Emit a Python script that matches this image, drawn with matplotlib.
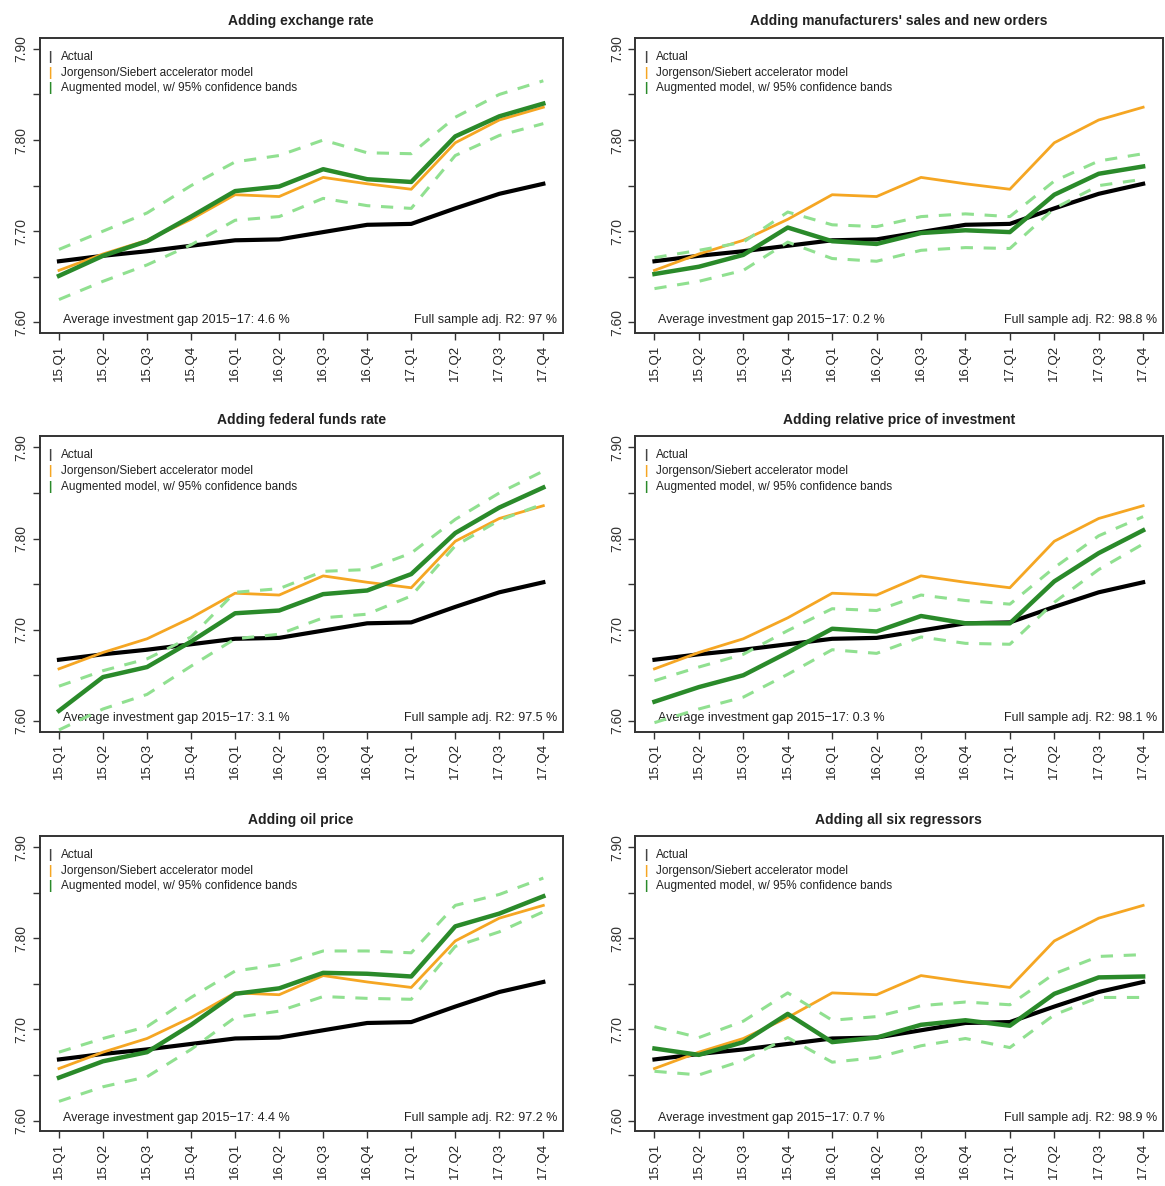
"""
Investment gap: actual vs. accelerator model vs. augmented models, 2015-17
"""
import matplotlib as mpl
import matplotlib.pyplot as plt
import numpy as np

mpl.rcParams["font.family"] = ["Liberation Sans", "DejaVu Sans"]
mpl.rcParams["axes.unicode_minus"] = False

# --------------------------------------------------------------------
# DATA (log real investment, read off the figure)
# --------------------------------------------------------------------
QUARTERS = ["15.Q1", "15.Q2", "15.Q3", "15.Q4", "16.Q1", "16.Q2",
            "16.Q3", "16.Q4", "17.Q1", "17.Q2", "17.Q3", "17.Q4"]

ACTUAL = [7.667, 7.673, 7.678, 7.684, 7.690, 7.691,
          7.699, 7.707, 7.708, 7.725, 7.741, 7.752]
JORGENSON = [7.657, 7.675, 7.690, 7.713, 7.740, 7.738,
             7.759, 7.752, 7.746, 7.797, 7.822, 7.836]

TITLES = [
    "Adding exchange rate",
    "Adding manufacturers' sales and new orders",
    "Adding federal funds rate",
    "Adding relative price of investment",
    "Adding oil price",
    "Adding all six regressors",
]
GAPS = ["4.6", "0.2", "3.1", "0.3", "4.4", "0.7"]
R2 = ["97", "98.8", "97.5", "98.1", "97.2", "98.9"]

# augmented model point forecast, per panel
AUG_EXCH = [7.651, 7.673, 7.689, 7.716, 7.744, 7.749,
            7.768, 7.757, 7.754, 7.804, 7.826, 7.840]
AUG_MANUF = [7.653, 7.661, 7.674, 7.704, 7.689, 7.686,
             7.698, 7.701, 7.699, 7.740, 7.763, 7.771]
AUG_FFR = [7.611, 7.648, 7.659, 7.687, 7.718, 7.721,
           7.739, 7.743, 7.761, 7.806, 7.834, 7.856]
AUG_RELP = [7.621, 7.637, 7.650, 7.675, 7.701, 7.698,
            7.715, 7.707, 7.707, 7.753, 7.784, 7.809]
AUG_OIL = [7.647, 7.665, 7.675, 7.705, 7.739, 7.745,
           7.762, 7.761, 7.758, 7.813, 7.827, 7.846]
AUG_ALL = [7.679, 7.672, 7.686, 7.717, 7.686, 7.691,
           7.705, 7.710, 7.704, 7.739, 7.757, 7.758]

# upper 95% band
UP_EXCH = [7.680, 7.700, 7.720, 7.750, 7.776, 7.783,
           7.800, 7.786, 7.785, 7.825, 7.850, 7.865]
UP_MANUF = [7.671, 7.679, 7.688, 7.721, 7.707, 7.705,
            7.716, 7.719, 7.716, 7.755, 7.777, 7.785]
UP_FFR = [7.638, 7.655, 7.668, 7.692, 7.741, 7.745,
          7.764, 7.766, 7.784, 7.821, 7.850, 7.874]
UP_RELP = [7.644, 7.659, 7.673, 7.699, 7.723, 7.721,
           7.738, 7.732, 7.728, 7.768, 7.803, 7.824]
UP_OIL = [7.675, 7.690, 7.703, 7.735, 7.764, 7.771,
          7.786, 7.786, 7.784, 7.836, 7.848, 7.866]
UP_ALL = [7.703, 7.691, 7.709, 7.740, 7.710, 7.714,
          7.726, 7.730, 7.727, 7.761, 7.780, 7.782]

# lower 95% band
LO_EXCH = [7.625, 7.645, 7.663, 7.685, 7.712, 7.716,
           7.736, 7.728, 7.725, 7.783, 7.805, 7.818]
LO_MANUF = [7.637, 7.645, 7.657, 7.688, 7.670, 7.667,
            7.679, 7.682, 7.681, 7.725, 7.750, 7.757]
LO_FFR = [7.590, 7.613, 7.629, 7.660, 7.690, 7.695,
          7.713, 7.717, 7.737, 7.792, 7.820, 7.838]
LO_RELP = [7.598, 7.613, 7.626, 7.651, 7.678, 7.674,
           7.692, 7.685, 7.684, 7.730, 7.766, 7.794]
LO_OIL = [7.621, 7.637, 7.648, 7.678, 7.713, 7.720,
          7.736, 7.734, 7.733, 7.791, 7.807, 7.829]
LO_ALL = [7.654, 7.650, 7.666, 7.691, 7.664, 7.669,
          7.682, 7.690, 7.680, 7.716, 7.735, 7.735]

AUGMENTED = [AUG_EXCH, AUG_MANUF, AUG_FFR, AUG_RELP, AUG_OIL, AUG_ALL]
UPPER = [UP_EXCH, UP_MANUF, UP_FFR, UP_RELP, UP_OIL, UP_ALL]
LOWER = [LO_EXCH, LO_MANUF, LO_FFR, LO_RELP, LO_OIL, LO_ALL]

# --------------------------------------------------------------------
# STYLE
# --------------------------------------------------------------------
C_ACTUAL = "#000000"
C_JORG = "#F5A623"
C_AUG = "#2A8A2A"
C_BAND = "#90E090"
C_AXIS = "#333333"

LEGEND = [
    ("Actual", "#444444"),
    ("Jorgenson/Siebert accelerator model", C_JORG),
    ("Augmented model, w/ 95% confidence bands", C_AUG),
]

# axes boxes in figure fractions: (left, bottom, width, height)
COL_LEFT = [0.034, 0.545]
COL_WIDTH = [0.449, 0.453]
ROW_BOTTOM = [0.719, 0.383, 0.046]
HEIGHT = 0.249


def draw_panel(ax, i):
    x = np.arange(1, len(QUARTERS) + 1)
    ax.plot(x, ACTUAL, color=C_ACTUAL, lw=3.0, zorder=3,
            solid_joinstyle="round")
    ax.plot(x, JORGENSON, color=C_JORG, lw=2.0, zorder=4)
    ax.plot(x, AUGMENTED[i], color=C_AUG, lw=3.2, zorder=5)
    for band in (UPPER[i], LOWER[i]):
        ax.plot(x, band, color=C_BAND, lw=2.2, ls=(0, (4, 3.5)), zorder=6)

    ax.set_xlim(0.56, 12.44)
    ax.set_ylim(7.588, 7.912)
    ax.set_xticks(x)
    ax.set_xticklabels(QUARTERS, rotation=90, fontsize=9.5, color="#222222")
    yt = np.arange(7.60, 7.9001, 0.05)
    ax.set_yticks(yt)
    ax.set_yticklabels([f"{v:.2f}" if k % 2 == 0 else "" for k, v in enumerate(yt)],
                       rotation=90, va="center", fontsize=10, color="#333333")
    ax.tick_params(length=5, width=1.0, color=C_AXIS, pad=3)
    for sp in ax.spines.values():
        sp.set_linewidth(1.4)
        sp.set_color(C_AXIS)

    ax.set_title(TITLES[i], fontsize=10, fontweight="bold", color="#222222", pad=9)

    # legend drawn as short coloured bars + text (R style)
    for k, (lab, col) in enumerate(LEGEND):
        yy = 0.936 - k * 0.053
        ax.text(0.017, yy, "|", color=col, fontsize=8.5, fontweight="bold",
                transform=ax.transAxes, va="center", ha="left")
        ax.text(0.040, yy, lab, color="#222222", fontsize=8.5,
                transform=ax.transAxes, va="center", ha="left")

    ax.text(0.044, 0.045, f"Average investment gap 2015\u221217: {GAPS[i]} %",
            fontsize=9, color="#222222", transform=ax.transAxes,
            va="center", ha="left")
    ax.text(0.99, 0.045, f"Full sample adj. R2: {R2[i]} %",
            fontsize=9, color="#222222", transform=ax.transAxes,
            va="center", ha="right")


def main():
    fig = plt.figure(figsize=(11.65, 11.86), dpi=100)
    for i in range(6):
        r, c = divmod(i, 2)
        ax = fig.add_axes([COL_LEFT[c], ROW_BOTTOM[r], COL_WIDTH[c], HEIGHT])
        draw_panel(ax, i)
    fig.savefig("out.png", dpi=100, facecolor="white")
    plt.close(fig)


if __name__ == "__main__":
    main()
